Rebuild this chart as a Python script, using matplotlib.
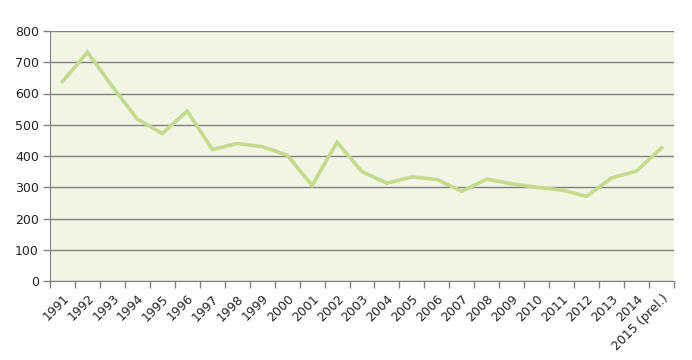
import matplotlib
matplotlib.use("Agg")
import matplotlib.pyplot as plt
import numpy as np

years = ["1991", "1992", "1993", "1994", "1995", "1996", "1997", "1998", "1999", "2000",
         "2001", "2002", "2003", "2004", "2005", "2006", "2007", "2008", "2009", "2010",
         "2011", "2012", "2013", "2014", "2015 (prel.)"]
values = [638, 732, 622, 518, 472, 544, 421, 440, 430, 403,
          306, 444, 350, 313, 333, 325, 287, 326, 311, 300,
          291, 271, 330, 352, 426]
yticks = [0, 100, 200, 300, 400, 500, 600, 700, 800]

fig = plt.figure(figsize=(6.92, 3.6), dpi=100)
ax = fig.add_axes([50/692, 79/360, 624/692, 250/360])
ax.set_facecolor("#F1F5E4")

x = np.arange(len(years))
ax.plot(x, values, color="#C4DA8C", linewidth=2.6, solid_joinstyle="miter", zorder=3)

ax.set_xlim(-0.5, len(years) - 0.5)
ax.set_ylim(0, 800)
ax.set_yticks(yticks)
ax.set_yticklabels([str(v) for v in yticks], fontsize=9, color="#222222")
ax.yaxis.grid(True, color="#808080", linewidth=1.0, zorder=1)
ax.tick_params(axis="y", length=5, color="#808080", width=1, pad=3)

ax.set_xticks(x)
ax.set_xticklabels(years, rotation=45, ha="right", rotation_mode="anchor", fontsize=9, color="#222222")
ax.set_xticks(np.arange(-0.5, len(years)), minor=True)
ax.tick_params(axis="x", which="major", length=0, pad=8)
ax.tick_params(axis="x", which="minor", length=5, color="#808080", width=1)

for s in ["top", "right"]:
    ax.spines[s].set_visible(False)
ax.spines["left"].set_color("#808080")
ax.spines["bottom"].set_color("#808080")
ax.set_axisbelow(True)

fig.savefig("out.png", dpi=100, facecolor="white")
